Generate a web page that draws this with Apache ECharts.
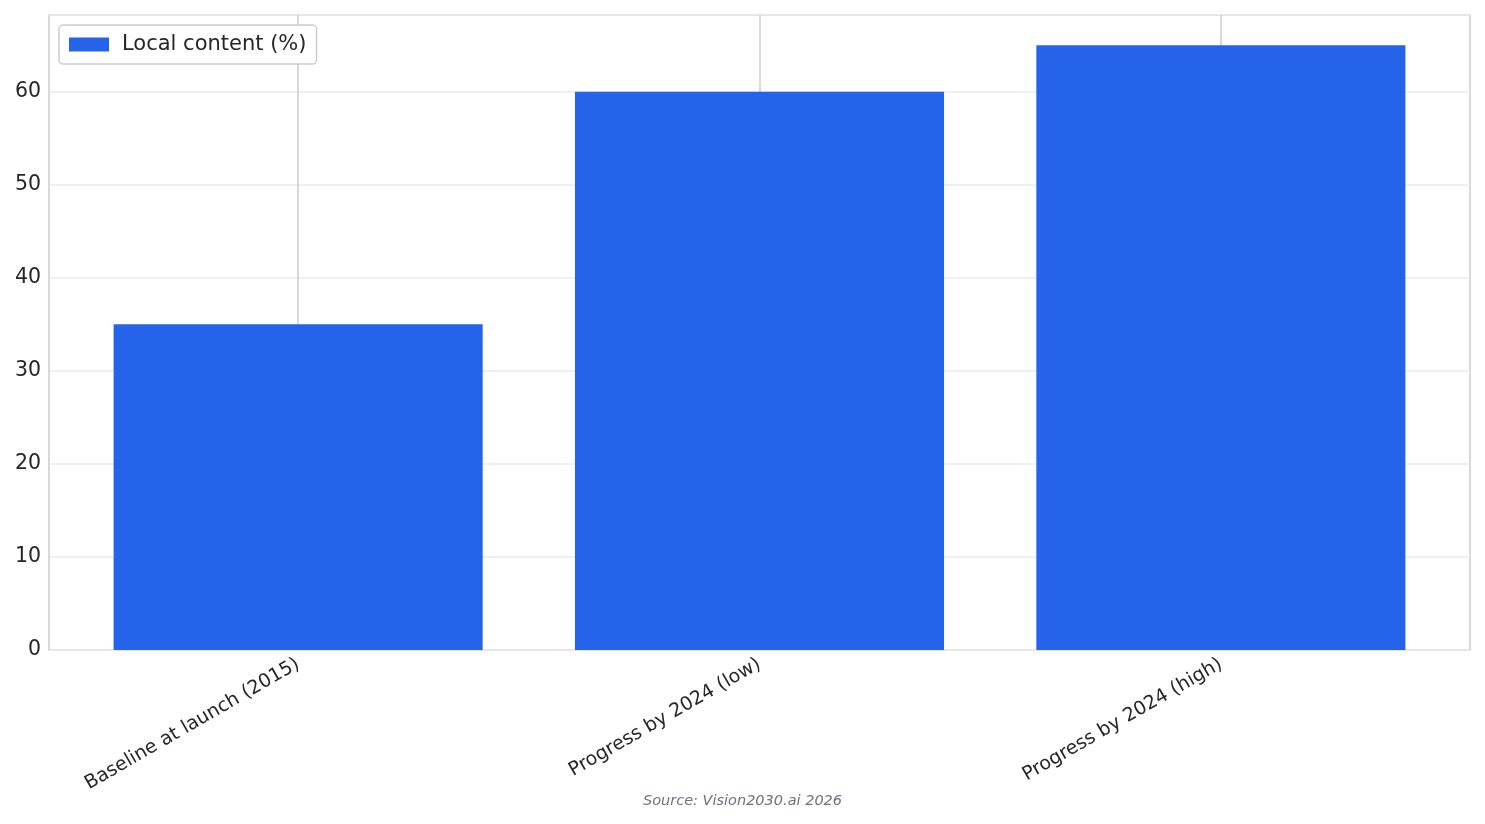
<!DOCTYPE html>
<html>
<head>
<meta charset="utf-8">
<title>Local content</title>
<script src="https://cdn.jsdelivr.net/npm/echarts@6/dist/echarts.min.js"></script>
<style>
  html, body { margin: 0; padding: 0; background: #fff; }
  #chart { width: 1485px; height: 824px; }
</style>
</head>
<body>
<div id="chart"></div>
<script>
// categories and values
const categories = ['Baseline at launch (2015)', 'Progress by 2024 (low)', 'Progress by 2024 (high)'];
const localContent = [35, 60, 65];
const seriesName = 'Local content (%)';
const yTicks = [0, 10, 20, 30, 40, 50, 60];
const sourceNote = 'Source: Vision2030.ai 2026';

const FONT = 'DejaVu Sans';
const barData = localContent.map((v, i) => [i, v]);
const catIdx = categories.map((c, i) => i);

const chart = echarts.init(document.getElementById('chart'));
chart.setOption({
    animation: false,
    backgroundColor: '#fff',
    grid: {
        left: 49, right: 15, top: 15, bottom: 174,
        show: true, borderColor: '#cccccc', borderWidth: 1.5,
        containLabel: false
    },
    legend: {
        left: 59, top: 25,
        padding: [9, 10, 9, 10],
        borderColor: '#cccccc', borderWidth: 1.5, borderRadius: 4,
        backgroundColor: '#fff',
        itemWidth: 40, itemHeight: 14, itemGap: 10,
        textStyle: { fontFamily: FONT, fontSize: 21, color: '#262626', padding: [0, 0, 0, 8] },
        data: [{ name: seriesName, icon: 'rect' }]
    },
    xAxis: {
        type: 'value',
        min: -0.54, max: 2.54,
        axisLine: { show: false },
        axisTick: { show: false, customValues: catIdx },
        splitLine: { show: true, lineStyle: { color: '#cccccc', width: 1.5 } },
        axisLabel: {
            customValues: catIdx,
            rotate: 30,
            margin: 13,
            fontFamily: FONT, fontSize: 19, color: '#262626',
            formatter: v => categories[Math.round(v)] || ''
        }
    },
    yAxis: {
        type: 'value',
        min: 0, max: 68.25,
        interval: 10,
        axisLine: { show: false },
        axisTick: { show: false },
        splitLine: { show: true, lineStyle: { color: '#ebebeb', width: 1.5 } },
        axisLabel: {
            fontFamily: FONT, fontSize: 20.5, color: '#262626', margin: 8,
            formatter: v => (yTicks.indexOf(v) >= 0 ? String(v) : '')
        }
    },
    series: [{
        name: seriesName,
        type: 'bar',
        data: barData,
        barWidth: '80%',
        itemStyle: { color: '#2563eb' }
    }],
    graphic: [{
        type: 'text',
        left: 'center', top: 794,
        style: {
            text: sourceNote,
            fontFamily: FONT, fontSize: 14.5, fontStyle: 'italic',
            fill: '#6b7280'
        }
    }]
});
</script>
</body>
</html>
